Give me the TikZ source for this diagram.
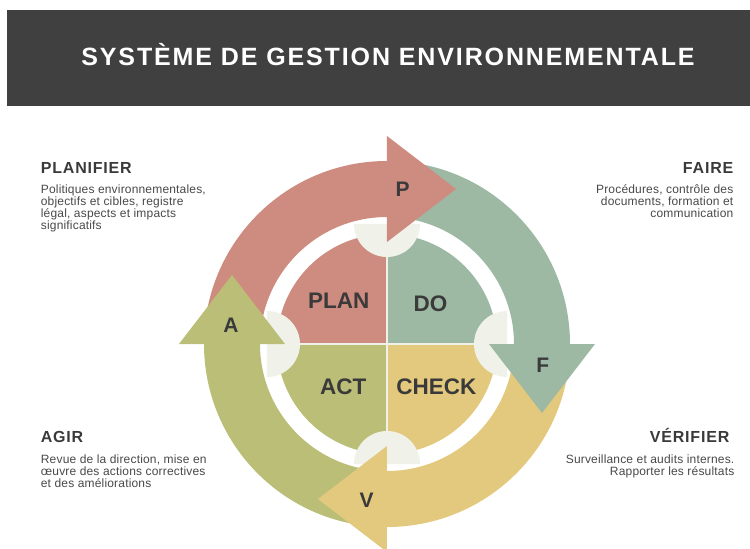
\documentclass[tikz,border=0pt]{standalone}
\usepackage{fontspec}
\setmainfont{Liberation Sans}
\newfontfamily\titlefont[LetterSpace=7.5]{Liberation Sans}
\newfontfamily\spacedfont[LetterSpace=5]{Liberation Sans}
\newfontfamily\bodyfont[LetterSpace=1.5]{Liberation Sans}
\usepackage{tikz}
\usetikzlibrary{calc}
\definecolor{bar_gray}{RGB}{64,64,64}
\definecolor{head_gray}{RGB}{58,58,58}
\definecolor{body_gray}{RGB}{72,72,72}
\definecolor{arc_red}{RGB}{206,139,127}
\definecolor{arc_green}{RGB}{157,185,164}
\definecolor{arc_yellow}{RGB}{227,201,125}
\definecolor{arc_olive}{RGB}{187,190,118}
\definecolor{cap_light}{RGB}{240,241,233}

\begin{document}
\begin{tikzpicture}[x=1pt,y=1pt]
    \tikzstyle{head}=[text=head_gray, font=\spacedfont\fontsize{16}{18}\selectfont\bfseries, inner sep=0pt]
    \tikzstyle{body}=[text=body_gray, font=\bodyfont\fontsize{12}{12.2}\selectfont, inner sep=0pt]
    \tikzstyle{letter}=[text=head_gray, font=\fontsize{21}{21}\selectfont\bfseries]
    \tikzstyle{quad}=[text=head_gray, font=\fontsize{22.5}{22.5}\selectfont\bfseries]

    \useasboundingbox (-387,-205) rectangle (363,344);
    \fill[bar_gray] (-380,238) rectangle (363,334);
    \node[text=white, font=\titlefont\fontsize{25}{30}\selectfont\bfseries, anchor=base] (title) at (1,278.7) {SYSTÈME DE GESTION ENVIRONNEMENTALE};

    % outer ring
    \foreach \a/\b/\c in {180/90/arc_red, 90/0/arc_green, 0/-90/arc_yellow, -90/-180/arc_olive}
        \fill[\c] (\a:183) arc (\a:\b:183) -- (\b:127) arc (\b:\a:127) -- cycle;

    % inner disc
    \foreach \a/\b/\c in {180/90/arc_red, 90/0/arc_green, 0/-90/arc_yellow, -90/-180/arc_olive}
        \fill[\c] (0,0) -- (\a:110) arc (\a:\b:110) -- cycle;
    \draw[cap_light, line width=1.2pt] (0,110) -- (0,-110) (-110,0) -- (110,0);

    % half discs
    \foreach \b in {90,0,-90,-180}
        \fill[cap_light] (\b:120) ++(\b+90:33) arc (\b+90:\b+270:33) -- cycle;

    % arrow heads
    \foreach \b/\c in {90/arc_red, 0/arc_green, -90/arc_yellow, -180/arc_olive}
        \fill[\c] (\b:102) -- (\b:208) -- ($(\b:155)+(\b-90:69)$) -- cycle;

    \node[letter] (p) at (15.7,155) {P};
    \node[letter] (f) at (155.7,-21) {F};
    \node[letter] (v) at (-20.3,-156) {V};
    \node[letter] (a) at (-156,19) {A};

    \node[quad] (plan) at (-48.2,43.2) {PLAN};
    \node[quad] (do) at (43.5,39.8) {DO};
    \node[quad] (act) at (-43.7,-42.7) {ACT};
    \node[quad] (check) at (49.3,-42.7) {CHECK};

    \node[head, anchor=base west] (planifier) at (-346.3,170.7) {PLANIFIER};
    \node[body, anchor=north west, align=left] (planifier_txt) at (-346.3,159.5)
        {Politiques environnementales,\\objectifs et cibles, registre\\légal, aspects et impacts\\significatifs};
    \node[head, anchor=base east] (faire) at (346.5,170.7) {FAIRE};
    \node[body, anchor=north east, align=right] (faire_txt) at (346.5,159.5)
        {Procédures, contrôle des\\documents, formation et\\communication};
    \node[head, anchor=base west] (agir) at (-346.3,-98.7) {AGIR};
    \node[body, anchor=north west, align=left] (agir_txt) at (-346.3,-110.3)
        {Revue de la direction, mise en\\œuvre des actions correctives\\et des améliorations};
    \node[head, anchor=base east] (verifier) at (342.5,-98.7) {VÉRIFIER};
    \node[body, anchor=north east, align=right] (verifier_txt) at (347.5,-110.3)
        {Surveillance et audits internes.\\Rapporter les résultats};
\end{tikzpicture}
\end{document}
